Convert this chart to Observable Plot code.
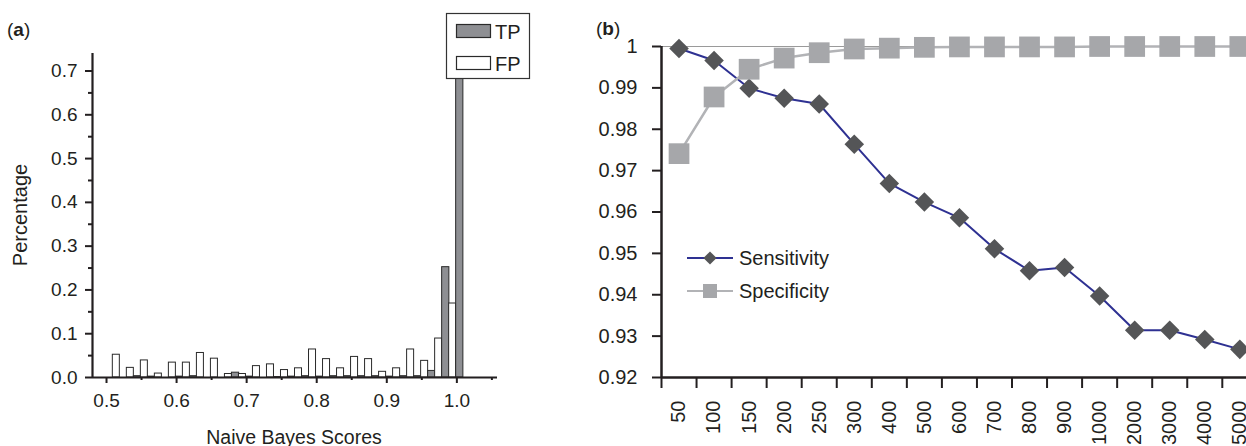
<!DOCTYPE html>
<html><head><meta charset="utf-8">
<script src="https://cdn.jsdelivr.net/npm/d3@7"></script>
<script src="https://cdn.jsdelivr.net/npm/@observablehq/plot@0.6"></script>
<style>
html,body{margin:0;padding:0;background:#fff;overflow:hidden;}
#wrap{position:relative;width:1246px;height:446px;font-family:"Liberation Sans",Arial,sans-serif;}
#a{position:absolute;left:0;top:0;width:560px;}
#b{position:absolute;left:560px;top:0;width:686px;}
</style></head><body><div id="wrap"><div id="a"></div><div id="b"></div></div>
<script>
// ---------- Panel (a) data ----------
const scoreBins = [0.52,0.54,0.56,0.58,0.60,0.62,0.64,0.66,0.68,0.70,0.72,0.74,0.76,0.78,0.80,0.82,0.84,0.86,0.88,0.90,0.92,0.94,0.96,0.98,1.00];
const fpValues  = [0.052,0.022,0.039,0.009,0.034,0.034,0.056,0.043,0.008,0.008,0.026,0.030,0.017,0.021,0.064,0.042,0.021,0.047,0.042,0.013,0.021,0.064,0.038,0.089,0.169];
const tpValues  = [0.000,0.003,0.002,0.000,0.002,0.003,0.000,0.000,0.011,0.002,0.000,0.001,0.002,0.003,0.002,0.003,0.003,0.003,0.003,0.002,0.003,0.003,0.015,0.252,0.720];
const seriesA = ["TP","FP"];
const xTicksA = [0.5,0.6,0.7,0.8,0.9,1.0];
const xMinorA = [0.55,0.65,0.75,0.85,0.95,1.05];
const yTicksA = [0,0.1,0.2,0.3,0.4,0.5,0.6,0.7];
const yMinorA = [0.05,0.15,0.25,0.35,0.45,0.55,0.65];

// ---------- Panel (b) data ----------
const thresholds  = ["50","100","150","200","250","300","400","500","600","700","800","900","1000","2000","3000","4000","5000"];
const sensitivity = [0.9995,0.9966,0.9899,0.9875,0.9861,0.9764,0.9669,0.9624,0.9586,0.9511,0.9458,0.9466,0.9397,0.9314,0.9314,0.9292,0.9268];
const specificity = [0.9741,0.9878,0.9945,0.9972,0.9985,0.9994,0.9996,0.9998,0.9999,0.9999,0.9999,0.9999,1.0000,1.0000,1.0000,1.0000,1.0000];
const yTicksB = [0.92,0.93,0.94,0.95,0.96,0.97,0.98,0.99,1];
const seriesB = ["Sensitivity","Specificity"];

const INK = "#231f20";
const FONT = '"Liberation Sans", Arial, sans-serif';
const TPFILL = "#8e8f93";

// ---------- Panel (a) ----------
const rowsA = [];
scoreBins.forEach((b, i) => {
  rowsA.push({bin: b, type: "FP", value: fpValues[i]});
  rowsA.push({bin: b, type: "TP", value: tpValues[i]});
});
const xDomA = [0.48, 1.058], yDomA = [0, 0.74];
const plotA = Plot.plot({
  width: 560, height: 446,
  marginLeft: 92, marginRight: 63, marginTop: 53, marginBottom: 69,
  style: {fontFamily: FONT, fontSize: "19px", color: INK, background: "transparent", overflow: "visible", maxWidth: "none"},
  x: {domain: xDomA}, y: {domain: yDomA},
  marks: [
    Plot.rectY(rowsA, {
      x1: d => d.type === "FP" ? d.bin - 0.011 : d.bin - 0.001,
      x2: d => d.type === "FP" ? d.bin - 0.001 : d.bin + 0.0093,
      y1: 0, y2: "value",
      fill: d => d.type === "TP" ? TPFILL : "#fff",
      stroke: "#2a2a2a", strokeWidth: 1
    }),
    Plot.axisY({ticks: yTicksA, tickSize: 7, tickPadding: 8, tickFormat: d3.format(".1f"), strokeWidth: 2, label: null, fontSize: 19}),
    Plot.axisY({ticks: yMinorA, tickSize: 4, tickFormat: () => "", strokeWidth: 2, label: null}),
    Plot.axisX({ticks: xTicksA, tickSize: 6, tickPadding: 10, tickFormat: d3.format(".1f"), strokeWidth: 2, label: null, fontSize: 19}),
    Plot.axisX({ticks: xMinorA, tickSize: 3, tickFormat: () => "", strokeWidth: 2, label: null}),
    Plot.ruleX([xDomA[0]], {y1: yDomA[0], y2: yDomA[1], stroke: INK, strokeWidth: 2.2}),
    Plot.ruleY([yDomA[0]], {x1: xDomA[0], x2: xDomA[1], stroke: INK, strokeWidth: 2.2})
  ]
});
document.getElementById("a").appendChild(plotA);
{
  const svg = d3.select(plotA);
  const t = svg.append("text").attr("x", 7).attr("y", 36).attr("text-anchor", "start").attr("font-size", 19).attr("fill", INK).attr("font-family", FONT);
  t.append("tspan").text("(");
  t.append("tspan").attr("font-weight", "bold").text("a");
  t.append("tspan").text(")");
  svg.append("text").attr("transform", "translate(27,215) rotate(-90)").attr("text-anchor", "middle")
    .attr("font-size", 20).attr("fill", INK).attr("font-family", FONT).text("Percentage");
  svg.append("text").attr("x", 294).attr("y", 444).attr("text-anchor", "middle")
    .attr("font-size", 19.5).attr("fill", INK).attr("font-family", FONT).text("Naive Bayes Scores");
  // legend
  const lg = svg.append("g");
  lg.append("rect").attr("x", 446.5).attr("y", 13.5).attr("width", 83).attr("height", 65).attr("fill", "#fff").attr("stroke", "#333").attr("stroke-width", 1.2);
  seriesA.forEach((s, i) => {
    const yy = 24 + i * 32;
    lg.append("rect").attr("x", 456.5).attr("y", yy + 0.5).attr("width", 34).attr("height", 13)
      .attr("fill", s === "TP" ? TPFILL : "#fff").attr("stroke", "#2a2a2a").attr("stroke-width", 1.2);
    lg.append("text").attr("x", 495).attr("y", yy + 14.5).attr("text-anchor", "start").attr("font-size", 20).attr("fill", INK).attr("font-family", FONT).text(s);
  });
}

// ---------- Panel (b) ----------
const rowsB = thresholds.map((t, i) => ({i, t, sens: sensitivity[i], spec: specificity[i]}));
const nB = thresholds.length;
const bandW = 35.05;
const yDomB = [0.92, 1];
const plotB = Plot.plot({
  width: 686, height: 446,
  marginLeft: 101, marginRight: 0, marginTop: 46, marginBottom: 69,
  style: {fontFamily: FONT, fontSize: "20px", color: INK, background: "transparent", overflow: "hidden", maxWidth: "none"},
  x: {type: "linear", domain: [0, nB], range: [101, 101 + nB * bandW]},
  y: {domain: yDomB},
  marks: [
    Plot.ruleY([yDomB[1]], {x1: 0, x2: nB, stroke: "#9a9a9a", strokeWidth: 1.2}),
    Plot.line(rowsB, {x: d => d.i + 0.5, y: "sens", stroke: "#2e3192", strokeWidth: 2}),
    Plot.dot(rowsB, {x: d => d.i + 0.5, y: "sens", symbol: "diamond2", r: 8.8, fill: "#545557"}),
    Plot.line(rowsB, {x: d => d.i + 0.5, y: "spec", stroke: "#b2b3b6", strokeWidth: 2.5}),
    Plot.dot(rowsB, {x: d => d.i + 0.5, y: "spec", symbol: "square", r: 11.7, fill: "#a6a7aa"}),
    Plot.axisY({ticks: yTicksB, tickSize: 9, tickPadding: 15, tickFormat: d => String(+d.toFixed(2)), strokeWidth: 2, label: null, fontSize: 20}),
    Plot.axisX({ticks: d3.range(0, nB + 1), tickSize: 11, tickFormat: () => "", strokeWidth: 2, label: null}),
    Plot.axisX({ticks: thresholds.map((_, i) => i + 0.5), tickSize: 0, tickPadding: 23, tickRotate: -90,
      tickFormat: d => thresholds[Math.floor(d)], label: null, fontSize: 20}),
    Plot.ruleX([0], {y1: yDomB[0], y2: yDomB[1], stroke: INK, strokeWidth: 2.5}),
    Plot.ruleY([yDomB[0]], {x1: 0, x2: nB, stroke: INK, strokeWidth: 2.5})
  ]
});
document.getElementById("b").appendChild(plotB);
{
  const svg = d3.select(plotB);
  const t = svg.append("text").attr("x", 36).attr("y", 35).attr("text-anchor", "start").attr("font-size", 19).attr("fill", INK).attr("font-family", FONT);
  t.append("tspan").text("(");
  t.append("tspan").attr("font-weight", "bold").text("b");
  t.append("tspan").text(")");
  const lg = svg.append("g");
  seriesB.forEach((s, i) => {
    const yy = 258 + i * 33;
    const col = s === "Sensitivity" ? "#2e3192" : "#b2b3b6";
    lg.append("line").attr("x1", 127).attr("x2", 173).attr("y1", yy).attr("y2", yy).attr("stroke", col).attr("stroke-width", 2);
    if (s === "Sensitivity") {
      lg.append("path").attr("d", d3.symbol(d3.symbolDiamond2, 110)()).attr("transform", `translate(150,${yy})`).attr("fill", "#545557");
    } else {
      lg.append("rect").attr("x", 143).attr("y", yy - 7).attr("width", 14).attr("height", 14).attr("fill", "#a6a7aa");
    }
    lg.append("text").attr("x", 179).attr("y", yy).attr("dy", "0.35em").attr("text-anchor", "start").attr("font-size", 20).attr("fill", INK).attr("font-family", FONT).text(s);
  });
}
</script></body></html>
